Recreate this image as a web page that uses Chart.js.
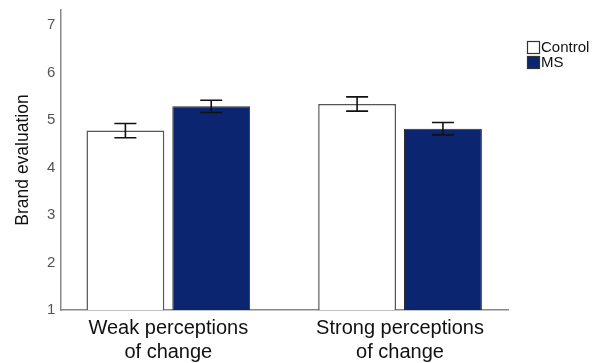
<!DOCTYPE html>
<html><head><meta charset="utf-8">
<script src="https://cdn.jsdelivr.net/npm/chart.js@4/dist/chart.umd.min.js"></script>
<style>html,body{margin:0;padding:0;background:#fff}#wrap{width:592px;height:363px}</style>
</head><body><div id="wrap"><canvas id="c" width="592" height="363"></canvas></div>
<script>
const categories = [['Weak perceptions', 'of change'], ['Strong perceptions', 'of change']];
const seriesNames = ['Control', 'MS'];
const controlMeans = [4.78, 5.34];
const msMeans = [5.29, 4.82];
const controlErr = [0.15, 0.15];
const msErr = [0.13, 0.13];
const yTicks = [1, 2, 3, 4, 5, 6, 7];
const yTitle = 'Brand evaluation';

const FONT = '"Liberation Sans", Arial, sans-serif';

const errorBars = {
  id: 'errorBars',
  afterDatasetsDraw(chart) {
    const ctx = chart.ctx, ys = chart.scales.y;
    const errs = [controlErr, msErr];
    chart.data.datasets.forEach((ds, i) => {
      const meta = chart.getDatasetMeta(i);
      meta.data.forEach((bar, j) => {
        const v = ds.data[j].y, e = errs[i][j];
        const top = ys.getPixelForValue(v + e), bot = ys.getPixelForValue(v - e);
        const x = bar.x, cap = 11;
        ctx.save();
        ctx.strokeStyle = '#111';
        ctx.lineWidth = 1.6;
        ctx.beginPath();
        ctx.moveTo(x, top); ctx.lineTo(x, bot);
        ctx.moveTo(x - cap, top); ctx.lineTo(x + cap, top);
        ctx.moveTo(x - cap, bot); ctx.lineTo(x + cap, bot);
        ctx.stroke();
        ctx.restore();
      });
    });
  }
};

const customLegend = {
  id: 'customLegend',
  afterDraw(chart) {
    const ctx = chart.ctx;
    ctx.save();
    chart.data.datasets.forEach((ds, i) => {
      const x = 527.5, y = 41.5 + i * 15;
      ctx.fillStyle = ds.backgroundColor;
      ctx.fillRect(x, y, 12, 12);
      ctx.strokeStyle = '#333';
      ctx.lineWidth = 1.2;
      ctx.strokeRect(x, y, 12, 12);
      ctx.fillStyle = '#111';
      ctx.font = '15px ' + FONT;
      ctx.textBaseline = 'middle';
      ctx.textAlign = 'left';
      ctx.fillText(ds.label, x + 13.5, y + 6.5);
    });
    ctx.restore();
  }
};

new Chart(document.getElementById('c'), {
  type: 'bar',
  data: {
    datasets: [
      { label: seriesNames[0], data: controlMeans.map((v, i) => ({ x: i, y: v })),
        backgroundColor: '#ffffff', borderColor: '#555555', borderWidth: 1.5 },
      { label: seriesNames[1], data: msMeans.map((v, i) => ({ x: i, y: v })),
        backgroundColor: '#0b2570', borderColor: '#2a2a2a', borderWidth: 1 }
    ]
  },
  options: {
    responsive: false,
    animation: false,
    devicePixelRatio: 1,
    layout: { padding: { top: 10, right: 84, left: 13, bottom: -7 } },
    datasets: { bar: { categoryPercentage: 0.741, barPercentage: 0.907 } },
    plugins: { legend: { display: false }, tooltip: { enabled: false } },
    scales: {
      x: {
        type: 'linear', min: -0.466, max: 1.466, offset: false,
        afterBuildTicks: s => { s.ticks = categories.map((_, i) => ({ value: i })); },
        grid: { display: false, drawTicks: false, offset: false },
        border: { display: true, color: '#888', width: 1.5 },
        ticks: {
          autoSkip: false, maxRotation: 0, padding: 6,
          color: '#111', font: { family: FONT, size: 20, lineHeight: 1.2 },
          callback: v => categories[v]
        }
      },
      y: {
        min: 1, max: 7.32,
        afterBuildTicks: s => { s.ticks = yTicks.map(v => ({ value: v })); },
        afterFit: s => { s.paddingTop = 0; },
        grid: { display: false, drawTicks: false },
        border: { display: true, color: '#888', width: 1.5 },
        ticks: { color: '#555', padding: 5, font: { family: FONT, size: 15 } },
        title: { display: true, text: yTitle, color: '#111', padding: { top: 0, bottom: 8 },
                 font: { family: FONT, size: 17.5 } }
      }
    }
  },
  plugins: [errorBars, customLegend]
});
</script>
</body></html>
